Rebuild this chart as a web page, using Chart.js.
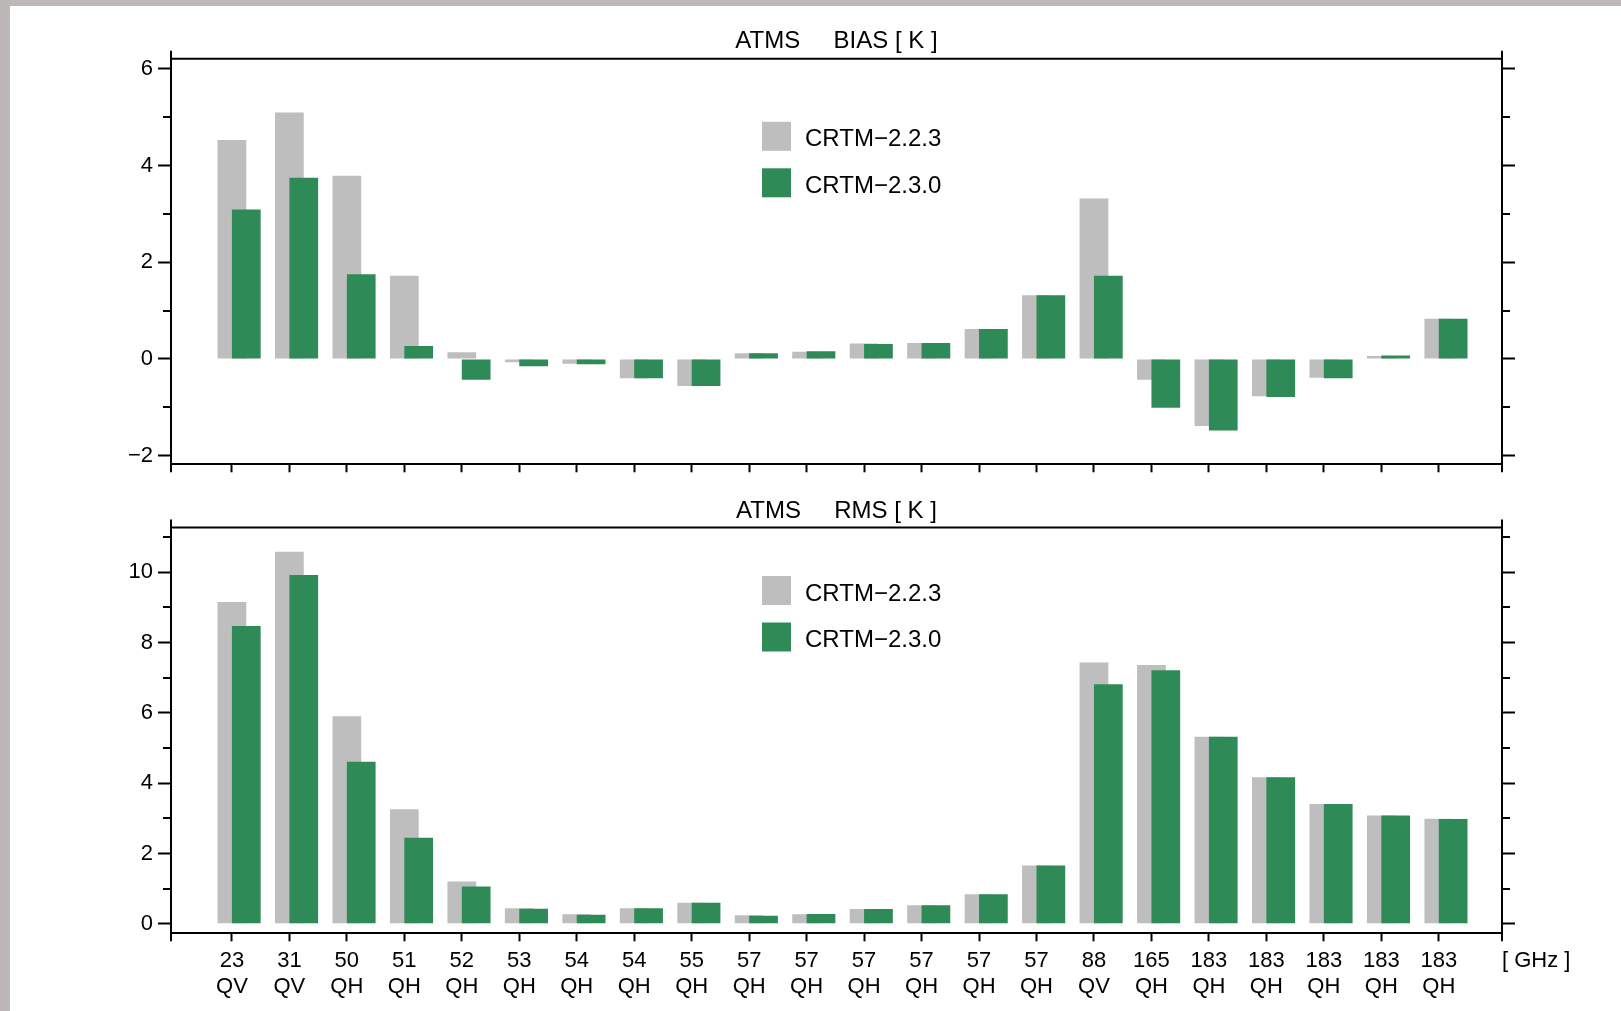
<!DOCTYPE html>
<html>
<head>
<meta charset="utf-8">
<title>ATMS BIAS / RMS</title>
<script src="https://cdn.jsdelivr.net/npm/chart.js@4.4.1/dist/chart.umd.min.js"></script>
<style>
  html, body { margin: 0; padding: 0; background: #fff; }
  body { width: 1621px; height: 1011px; position: relative; overflow: hidden; }
  .strip { position: absolute; background: #bdb8b8; z-index: 2; }
  #biasChart { position: absolute; left: 52px; top: 0; }
  #rmsChart { position: absolute; left: 52px; top: 480px; }
</style>
</head>
<body>
<div class="strip" style="left:0;top:0;width:1621px;height:6px"></div>
<div class="strip" style="left:0;top:0;width:10px;height:1011px"></div>
<canvas id="biasChart" width="1569" height="483"></canvas>
<canvas id="rmsChart" width="1569" height="531"></canvas>
<script>
// Kanálisok (frekvencia GHz + polarizáció)
const freqs = ['23','31','50','51','52','53','54','54','55','57','57','57','57','57','57','88','165','183','183','183','183','183'];
const pols  = ['QV','QV','QH','QH','QH','QH','QH','QH','QH','QH','QH','QH','QH','QH','QH','QV','QH','QH','QH','QH','QH','QH'];
const seriesNames = ['CRTM\u22122.2.3', 'CRTM\u22122.3.0'];

// BIAS [K]
const biasOld = [4.53, 5.10, 3.79, 1.72, 0.14, -0.07, -0.10, -0.40, -0.56, 0.12, 0.15, 0.32, 0.33, 0.62, 1.32, 3.32, -0.43, -1.39, -0.77, -0.39, 0.06, 0.83];
const biasNew = [3.09, 3.75, 1.75, 0.27, -0.43, -0.15, -0.11, -0.40, -0.56, 0.12, 0.16, 0.31, 0.33, 0.62, 1.32, 1.72, -1.01, -1.48, -0.79, -0.40, 0.07, 0.83];
const biasTicks = [-2, 0, 2, 4, 6];
const biasMinor = [-1, 1, 3, 5];

// RMS [K]
const rmsOld = [9.15, 10.58, 5.90, 3.26, 1.20, 0.44, 0.27, 0.44, 0.60, 0.24, 0.27, 0.42, 0.53, 0.84, 1.66, 7.43, 7.36, 5.32, 4.17, 3.41, 3.08, 2.99];
const rmsNew = [8.47, 9.92, 4.61, 2.45, 1.06, 0.43, 0.26, 0.44, 0.60, 0.23, 0.28, 0.42, 0.53, 0.84, 1.66, 6.81, 7.21, 5.32, 4.17, 3.41, 3.08, 2.98];
const rmsTicks = [0, 2, 4, 6, 8, 10];
const rmsMinor = [1, 3, 5, 7, 9, 11];

const unitLabel = '[ GHz ]';

Chart.defaults.font.family = '"Liberation Sans", Arial, Helvetica, sans-serif';
Chart.defaults.color = '#000';

const GRAY = '#bebebe';
const GREEN = '#2e8b57';
const BAR_PCT = 0.5;
const SHIFT = BAR_PCT / 2;   // az új változat oszlopa fél oszlopnyit jobbra csúszik
const X_MIN = -1.06, X_MAX = 22.1;

// keret, kis osztások, jelmagyarázat, mértékegység
const framePlugin = {
  id: 'frame',
  afterDraw(chart, args, opts) {
    const { ctx, chartArea: a, scales } = chart;
    ctx.save();
    ctx.strokeStyle = '#000';
    ctx.lineWidth = 2;
    ctx.beginPath();
    ctx.moveTo(a.left, a.top); ctx.lineTo(a.right, a.top);
    ctx.moveTo(a.left, a.top - 8); ctx.lineTo(a.left, a.bottom + 8);
    ctx.moveTo(a.right, a.top - 8); ctx.lineTo(a.right, a.bottom + 8);
    opts.minor.forEach(v => {
      const y = Math.round(scales.y.getPixelForValue(v));
      ctx.moveTo(a.left - 8, y); ctx.lineTo(a.left, y);
      ctx.moveTo(a.right, y); ctx.lineTo(a.right + 8, y);
    });
    ctx.stroke();

    // jelmagyarázat
    ctx.font = '24px "Liberation Sans", Arial, sans-serif';
    ctx.textBaseline = 'middle';
    ctx.textAlign = 'left';
    const lx = a.left + opts.legend.dx, ly = a.top + opts.legend.dy;
    chart.data.datasets.forEach((ds, i) => {
      const y = ly + i * 46.5;
      ctx.fillStyle = ds.backgroundColor;
      ctx.fillRect(lx, y, 29, 29);
      ctx.fillStyle = '#000';
      ctx.fillText(ds.label, lx + 43, y + 18);
    });

    if (opts.unit) {
      ctx.font = '22px "Liberation Sans", Arial, sans-serif';
      ctx.fillText(opts.unit, a.right, a.bottom + 27.7);
    }
    ctx.restore();
  }
};

function makeChart(id, title, oldVals, newVals, yMin, yMax, major, minor, cfg) {
  const ctx = document.getElementById(id).getContext('2d');
  const setTicks = list => s => { s.ticks = list.map(v => ({ value: v })); };
  const catTicks = setTicks(freqs.map((f, i) => i));
  return new Chart(ctx, {
    type: 'bar',
    data: {
      datasets: [
        { label: seriesNames[0], data: oldVals.map((v, i) => ({ x: i, y: v })), backgroundColor: GRAY,
          xAxisID: 'x', yAxisID: 'y', order: 2, grouped: false, barPercentage: BAR_PCT, categoryPercentage: 1 },
        { label: seriesNames[1], data: newVals.map((v, i) => ({ x: i, y: v })), backgroundColor: GREEN,
          xAxisID: 'x2', yAxisID: 'y', order: 1, grouped: false, barPercentage: BAR_PCT, categoryPercentage: 1 }
      ]
    },
    options: {
      responsive: false,
      animation: false,
      layout: { padding: 0 },
      plugins: {
        legend: { display: false },
        tooltip: { enabled: false },
        title: { display: true, text: title, color: '#000', font: { size: 24, weight: 'normal' },
                 padding: { top: cfg.titleTop, bottom: cfg.titleBottom } },
        frame: { minor: minor, legend: cfg.legend, unit: cfg.unit }
      },
      scales: {
        x: {
          type: 'linear', min: X_MIN, max: X_MAX, offset: false,
          afterBuildTicks: catTicks,
          afterFit: s => { s.height = cfg.xHeight; },
          border: { display: true, color: '#000', width: 2 },
          grid: { offset: false, drawOnChartArea: false, drawTicks: true, tickLength: 8, tickColor: '#000', tickWidth: 2 },
          ticks: { display: cfg.showLabels, autoSkip: false, maxRotation: 0, padding: 6.5,
                   font: { size: 22 }, callback: v => [freqs[v], pols[v]] }
        },
        x2: {
          type: 'linear', display: false, min: X_MIN - SHIFT, max: X_MAX - SHIFT, offset: false,
          grid: { offset: false },
          afterBuildTicks: catTicks
        },
        y: {
          position: 'left', min: yMin, max: yMax,
          afterBuildTicks: setTicks(major),
          afterFit: s => { s.width = 119; },
          border: { display: false },
          grid: { drawOnChartArea: false, tickLength: 13, tickColor: '#000', tickWidth: 2 },
          ticks: { padding: 5, font: { size: 22 }, callback: v => String(v).replace('-', '\u2212') }
        },
        y2: {
          position: 'right', min: yMin, max: yMax,
          afterBuildTicks: setTicks(major),
          afterFit: s => { s.width = 119; },
          border: { display: false },
          grid: { drawOnChartArea: false, tickLength: 13, tickColor: '#000', tickWidth: 2 },
          ticks: { display: false }
        }
      }
    },
    plugins: [framePlugin]
  });
}

makeChart('biasChart', 'ATMS     BIAS [ K ]', biasOld, biasNew, -2.18, 6.21, biasTicks, biasMinor,
  { titleTop: 27, titleBottom: 3, xHeight: 18.7, showLabels: false, legend: { dx: 591, dy: 63 } });

makeChart('rmsChart', 'ATMS     RMS [ K ]', rmsOld, rmsNew, -0.27, 11.27, rmsTicks, rmsMinor,
  { titleTop: 16.6, titleBottom: 2.1, xHeight: 77.7, showLabels: true, legend: { dx: 591, dy: 48.5 }, unit: unitLabel });
</script>
</body>
</html>
